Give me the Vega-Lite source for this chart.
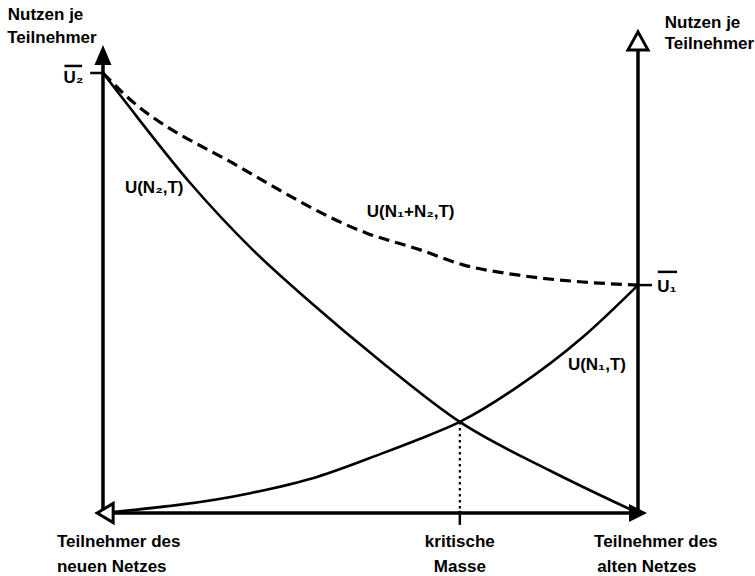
{
  "$schema": "https://vega.github.io/schema/vega-lite/v6.json",
  "width": 755,
  "height": 576,
  "padding": 0,
  "autosize": {"type": "none"},
  "background": "white",
  "config": {"view": {"stroke": null}},
  "datasets": {
    "curves": [
      {"series": "U(N2,T)", "x": 0, "y": 100},
      {"series": "U(N2,T)", "x": 3.7, "y": 94.2},
      {"series": "U(N2,T)", "x": 16.3, "y": 75.0},
      {"series": "U(N2,T)", "x": 28.0, "y": 59.8},
      {"series": "U(N2,T)", "x": 38.3, "y": 48.4},
      {"series": "U(N2,T)", "x": 52.3, "y": 34.1},
      {"series": "U(N2,T)", "x": 66.7, "y": 20.7},
      {"series": "U(N2,T)", "x": 83.6, "y": 9.6},
      {"series": "U(N2,T)", "x": 100, "y": 0},
      {"series": "U(N1,T)", "x": 0, "y": 0},
      {"series": "U(N1,T)", "x": 27.5, "y": 4.5},
      {"series": "U(N1,T)", "x": 40.0, "y": 8.2},
      {"series": "U(N1,T)", "x": 52.3, "y": 13.6},
      {"series": "U(N1,T)", "x": 58.7, "y": 16.6},
      {"series": "U(N1,T)", "x": 66.7, "y": 20.7},
      {"series": "U(N1,T)", "x": 77.4, "y": 28.6},
      {"series": "U(N1,T)", "x": 89.7, "y": 40.0},
      {"series": "U(N1,T)", "x": 100, "y": 51.8}
    ],
    "total": [
      {"series": "U(N1+N2,T)", "x": 0, "y": 100},
      {"series": "U(N1+N2,T)", "x": 3.7, "y": 95.5},
      {"series": "U(N1+N2,T)", "x": 25.6, "y": 78.6},
      {"series": "U(N1+N2,T)", "x": 49.3, "y": 63.6},
      {"series": "U(N1+N2,T)", "x": 59.3, "y": 59.8},
      {"series": "U(N1+N2,T)", "x": 67.3, "y": 56.4},
      {"series": "U(N1+N2,T)", "x": 77.4, "y": 54.1},
      {"series": "U(N1+N2,T)", "x": 89.7, "y": 52.5},
      {"series": "U(N1+N2,T)", "x": 100, "y": 51.8}
    ],
    "axes": [
      {"part": "left axis", "x": 0, "y": 0, "x2": 0, "y2": 102},
      {"part": "right axis", "x": 100, "y": 0, "x2": 100, "y2": 105.2},
      {"part": "bottom axis", "x": 0, "y": 0, "x2": 100, "y2": 0}
    ],
    "ticks": [
      {"part": "U2 tick", "x": -2.4, "y": 100, "x2": 0, "y2": 100},
      {"part": "U1 tick", "x": 100, "y": 51.8, "x2": 102.6, "y2": 51.8},
      {"part": "critical tick", "x": 66.7, "y": 0.5, "x2": 66.7, "y2": -2.7},
      {"part": "U2 bar", "x": -7.2, "y": 101.6, "x2": -3.9, "y2": 101.6},
      {"part": "U1 bar", "x": 103.7, "y": 54.8, "x2": 107.3, "y2": 54.8}
    ],
    "critical": [
      {"x": 66.7, "y": 20.7, "x2": 66.7, "y2": 0}
    ],
    "labels": [
      {"text": "Nutzen je", "x": -17.8, "y": 113.2, "align": "left"},
      {"text": "Teilnehmer", "x": -17.9, "y": 108.0, "align": "left"},
      {"text": "Nutzen je", "x": 105.0, "y": 111.4, "align": "left"},
      {"text": "Teilnehmer", "x": 105.0, "y": 106.6, "align": "left"},
      {"text": "U(N₂,T)", "x": 4.1, "y": 73.9, "align": "left"},
      {"text": "U(N₁+N₂,T)", "x": 49.3, "y": 68.4, "align": "left"},
      {"text": "U(N₁,T)", "x": 86.9, "y": 33.6, "align": "left"},
      {"text": "U₂", "x": -7.4, "y": 98.9, "align": "left"},
      {"text": "U₁", "x": 103.6, "y": 51.4, "align": "left"},
      {"text": "Teilnehmer des", "x": -8.6, "y": -6.6, "align": "left"},
      {"text": "neuen Netzes", "x": -8.6, "y": -12.3, "align": "left"},
      {"text": "kritische", "x": 66.7, "y": -6.6, "align": "center"},
      {"text": "Masse", "x": 66.7, "y": -12.3, "align": "center"},
      {"text": "Teilnehmer des", "x": 91.8, "y": -6.6, "align": "left"},
      {"text": "alten Netzes", "x": 92.4, "y": -12.3, "align": "left"}
    ]
  },
  "encoding": {
    "x": {"field": "x", "type": "quantitative", "axis": null, "scale": {"domain": [-19.25, 121.87], "nice": false, "zero": false}},
    "y": {"field": "y", "type": "quantitative", "axis": null, "scale": {"domain": [-14.32, 116.59], "nice": false, "zero": false}}
  },
  "layer": [
    {
      "data": {"name": "axes"},
      "mark": {"type": "rule", "color": "black", "strokeWidth": 3.5},
      "encoding": {"x2": {"field": "x2"}, "y2": {"field": "y2"}}
    },
    {
      "data": {"name": "ticks"},
      "mark": {"type": "rule", "color": "black", "strokeWidth": 2.5},
      "encoding": {"x2": {"field": "x2"}, "y2": {"field": "y2"}}
    },
    {
      "data": {"name": "critical"},
      "mark": {"type": "rule", "color": "black", "strokeWidth": 2.2, "strokeDash": [2.5, 3.5]},
      "encoding": {"x2": {"field": "x2"}, "y2": {"field": "y2"}}
    },
    {
      "data": {"name": "curves"},
      "mark": {"type": "line", "color": "black", "strokeWidth": 2.6, "interpolate": "monotone"},
      "encoding": {"detail": {"field": "series"}, "order": {"field": "x", "type": "quantitative"}}
    },
    {
      "data": {"name": "total"},
      "mark": {"type": "line", "color": "black", "strokeWidth": 3.2, "strokeDash": [11, 6], "interpolate": "monotone"},
      "encoding": {"detail": {"field": "series"}}
    },
    {
      "data": {"values": [{"x": 0, "y": 104.1}]},
      "mark": {"type": "point", "filled": true, "color": "black", "opacity": 1, "size": 400, "shape": "M0,-1L0.85,1L-0.85,1Z"}
    },
    {
      "data": {"values": [{"x": 100, "y": 107.3}]},
      "mark": {"type": "point", "filled": false, "fill": "white", "fillOpacity": 1, "stroke": "black", "strokeWidth": 3, "opacity": 1, "size": 400, "shape": "M0,-0.9L1,0.9L-1,0.9Z"}
    },
    {
      "data": {"values": [{"x": 0.5, "y": 0}]},
      "mark": {"type": "point", "filled": false, "fill": "white", "fillOpacity": 1, "stroke": "black", "strokeWidth": 3, "opacity": 1, "size": 400, "shape": "M-0.85,0L0.75,-0.95L0.75,0.95Z"}
    },
    {
      "data": {"values": [{"x": 100, "y": 0}]},
      "mark": {"type": "point", "filled": true, "color": "black", "opacity": 1, "size": 400, "shape": "M0.9,0L-0.9,-0.9L-0.9,0.9Z"}
    },
    {
      "data": {"name": "labels"},
      "transform": [{"filter": "datum.align === 'left'"}],
      "mark": {"type": "text", "align": "left", "font": "Liberation Sans", "fontSize": 17, "fontWeight": "bold", "color": "black", "baseline": "middle"},
      "encoding": {"text": {"field": "text"}}
    },
    {
      "data": {"name": "labels"},
      "transform": [{"filter": "datum.align === 'center'"}],
      "mark": {"type": "text", "align": "center", "font": "Liberation Sans", "fontSize": 17, "fontWeight": "bold", "color": "black", "baseline": "middle"},
      "encoding": {"text": {"field": "text"}}
    }
  ]
}
